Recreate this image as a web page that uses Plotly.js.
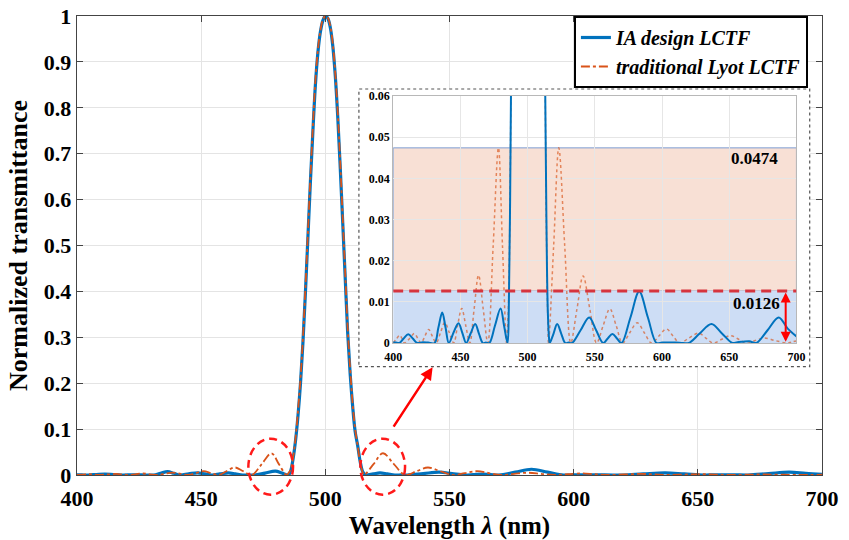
<!DOCTYPE html>
<html>
<head>
<meta charset="utf-8">
<script src="https://cdn.plot.ly/plotly-3.0.1.min.js"></script>
<style>html,body{margin:0;padding:0;background:#fff;}#chart{width:849px;height:540px;}</style>
</head>
<body>
<div id="chart"></div>
<script>
// ---------- data ----------
const seriesNames = ["IA design LCTF", "traditional Lyot LCTF"];

const iaX = [400,402,404.5,407.8,411.2,414.6,418,422,426,430.8,433.6,436.5,439,441.4,445,448.6,451.5,454.3,457.6,461,463.8,466.7,469,471.5,475.7,479.9,482.5,485.1,
  486,487,488,489,490,491,492,493,494,495,496,497,498,499,500,501,502,503,504,505,506,507,508,509,510,511,512,513,514,515,516,516.5,
  519.3,522,525,528,530.5,533,539.4,545.8,551,556.2,559.6,563.1,566.5,569.9,576.5,583,589.5,595.9,600,605,610,615.7,620,628,636.8,644.6,652.4,656,660,665,670.2,678.5,686.8,693.5,700];
const iaY = [0.0002,0.0001,0,0.0011,0.0021,0.0011,0,0.0002,0.0001,0,0.0037,0.0074,0.0037,0,0.0026,0.0048,0.0024,0,0.0023,0.0046,0.0023,0,0.0001,0,0.0042,0.0084,0.0042,0,
  0.008,0.035,0.075,0.13,0.2,0.29,0.4,0.52,0.64,0.75,0.85,0.92,0.965,0.99,1,0.995,0.975,0.935,0.87,0.78,0.67,0.55,0.43,0.31,0.22,0.15,0.095,0.065,0.03,0.008,0.001,0,
  0.0023,0.0046,0.0023,0,0.0001,0,0.0031,0.0062,0.0031,0,0.0011,0.0022,0.0011,0,0.0062,0.0125,0.0062,0,0.0001,0.0001,0.0001,0,0,0.0023,0.0046,0.0023,0,0.0002,0.0003,0.0004,0,0.0031,0.0062,0.0035,0.0016];

const lyotX = [400,402.5,404.8,406.7,408.5,412.2,415.8,418.3,420.8,423.5,426.4,429.2,432,435.2,438.4,441.8,445.1,447.9,451,454,457,460.2,463.5,467,470.4,474.4,478.3,481.3,484.3,
  485,486,487,488,489,490,491,492,493,494,495,496,497,498,499,500,501,502,503,504,505,506,507,508,509,510,511,512,513,514,515,515.6,
  519.4,523.2,527.6,532.1,536.7,541.3,546.3,551.3,556.2,561.2,565.9,570.6,576,581.5,586.8,592.2,597.7,603.3,608.2,613.2,620,627.3,632.6,638,644.5,651,657,663,669.5,676,684,692.6,696,700];
const lyotY = [0,0.001,0.0019,0.001,0,0.0011,0.0023,0.0011,0,0.0016,0.0033,0.0016,0,0.0025,0.005,0.0025,0,0.0042,0.0084,0.0042,0,0.0082,0.0165,0.0082,0,0.0237,0.0474,0.0237,0,
  0.003,0.012,0.038,0.08,0.14,0.21,0.30,0.41,0.53,0.65,0.76,0.86,0.925,0.968,0.992,1,0.996,0.978,0.94,0.875,0.79,0.68,0.56,0.44,0.32,0.23,0.155,0.1,0.065,0.028,0.006,0,
  0.0237,0.0474,0.0237,0,0.0082,0.0163,0.0082,0,0.0042,0.0083,0.0042,0,0.0025,0.0049,0.0025,0,0.0017,0.0034,0.0017,0,0.0012,0.0024,0.0012,0,0.0009,0.0018,0.0009,0,0.0006,0.0012,0.0006,0,0.0002,0.0005];

const lyotMaxSide = 0.0474;   // traditional Lyot side-lobe maximum
const iaMaxSide = 0.0126;     // IA design side-lobe maximum
const mainXTicks = [400,450,500,550,600,650,700];
const mainYTicks = [0,0.1,0.2,0.3,0.4,0.5,0.6,0.7,0.8,0.9,1];
const insetYTicks = [0,0.01,0.02,0.03,0.04,0.05,0.06];
const blankX = [], blankY = [];

// ---------- styling ----------
const SERIF = "Liberation Serif, Times New Roman, serif";
const BLUE = "#0072BD", ORANGE = "#D95319";
const bold = (size, extra) => Object.assign({family: SERIF, size: size, color: "#000", weight: "bold"}, extra || {});

const traces = [
  {x: iaX, y: iaY, name: seriesNames[0], type: "scatter", mode: "lines", xaxis: "x", yaxis: "y",
   line: {color: BLUE, width: 3.2, shape: "spline", smoothing: 1}, hoverinfo: "skip"},
  {x: lyotX, y: lyotY, name: seriesNames[1], type: "scatter", mode: "lines", xaxis: "x", yaxis: "y",
   line: {color: ORANGE, width: 1.8, dash: "dashdot", shape: "spline", smoothing: 1}, hoverinfo: "skip"},
  // frame behind the inset
  {x: blankX, y: blankY, xaxis: "x2", yaxis: "y2", type: "scatter", mode: "lines", showlegend: false, hoverinfo: "skip"},
  // inset
  {x: lyotX, y: lyotY, type: "scatter", mode: "lines", xaxis: "x3", yaxis: "y3", showlegend: false,
   line: {color: "rgba(217,83,25,0.65)", width: 1.5, dash: "dot", shape: "spline", smoothing: 1}, hoverinfo: "skip", cliponaxis: true},
  {x: iaX, y: iaY, type: "scatter", mode: "lines", xaxis: "x3", yaxis: "y3", showlegend: false,
   line: {color: BLUE, width: 2, shape: "spline", smoothing: 1}, hoverinfo: "skip", cliponaxis: true}
];

const layout = {
  width: 849, height: 540,
  margin: {l: 77, r: 27, t: 16, b: 65},
  paper_bgcolor: "#fff", plot_bgcolor: "#fff",
  showlegend: true,
  legend: {x: 0.667, y: 1, xanchor: "left", yanchor: "top", bgcolor: "#fff", bordercolor: "#000", borderwidth: 2,
           font: bold(20, {style: "italic"}), tracegroupgap: 0, itemwidth: 30},
  xaxis: {domain: [0, 1], range: [400, 700], tickvals: mainXTicks, ticks: "inside", ticklen: 6, tickcolor: "#444",
          showline: true, linecolor: "#444", linewidth: 1.3, mirror: "ticks", showgrid: true, gridcolor: "#e4e4e4",
          zeroline: false, tickfont: bold(22), anchor: "y", ticklabelstandoff: 3,
          title: {text: "Wavelength <i>λ</i> (nm)", font: bold(25), standoff: 6}},
  yaxis: {domain: [0, 1], range: [0, 1], tickvals: mainYTicks, ticktext: mainYTicks.map(String), ticks: "inside", ticklen: 6, tickcolor: "#444",
          showline: true, linecolor: "#444", linewidth: 1.3, mirror: "ticks", showgrid: true, gridcolor: "#e4e4e4",
          zeroline: false, tickfont: bold(22), anchor: "x",
          title: {text: "Normalized transmittance", font: bold(26), standoff: 8}},
  xaxis2: {domain: [0.3784, 0.9835], range: [0, 1], visible: false, anchor: "y2"},
  yaxis2: {domain: [0.236, 0.841], range: [0, 1], visible: false, anchor: "x2"},
  xaxis3: {domain: [0.4244, 0.9657], range: [400, 700], tickvals: mainXTicks, ticks: "", showline: true, linecolor: "#b8b8b8", linewidth: 1,
           mirror: true, showgrid: true, gridcolor: "#e6e6e6", zeroline: false, tickfont: bold(12), anchor: "y3", ticklabelstandoff: 3},
  yaxis3: {domain: [0.2876, 0.8257], range: [0, 0.06], tickvals: insetYTicks, ticktext: insetYTicks.map(String), ticks: "", showline: true,
           linecolor: "#b8b8b8", linewidth: 1, mirror: true, showgrid: true, gridcolor: "#e6e6e6", zeroline: false,
           tickfont: bold(12), anchor: "x3"},
  shapes: [
    {type: "rect", xref: "x3", yref: "y3", x0: 400, x1: 700, y0: iaMaxSide, y1: lyotMaxSide, layer: "below",
     fillcolor: "rgb(248,224,213)", line: {color: "rgb(125,158,212)", width: 1}},
    {type: "rect", xref: "x3", yref: "y3", x0: 400, x1: 700, y0: 0, y1: iaMaxSide, layer: "below",
     fillcolor: "rgb(205,221,245)", line: {width: 0}},
    {type: "line", xref: "x3", yref: "y3", x0: 400, x1: 700, y0: iaMaxSide, y1: iaMaxSide, layer: "above",
     line: {color: "rgb(214,52,62)", width: 3, dash: "10px,6px"}},
    {type: "rect", xref: "paper", yref: "paper", x0: 0.3784, x1: 0.9835, y0: 0.236, y1: 0.841, layer: "above",
     line: {color: "#555", width: 1.2, dash: "dot"}, fillcolor: "rgba(0,0,0,0)"},
    {type: "circle", xref: "x", yref: "paper", x0: 469, x1: 487, y0: -0.043, y1: 0.079, layer: "above",
     line: {color: "#ff1a1a", width: 2.5, dash: "8px,5px"}},
    {type: "circle", xref: "x", yref: "paper", x0: 514.1, x1: 532.1, y0: -0.043, y1: 0.079, layer: "above",
     line: {color: "#ff1a1a", width: 2.5, dash: "8px,5px"}}
  ],
  annotations: [
    {xref: "x3", yref: "y3", x: 669, y: 0.0449, text: "0.0474", showarrow: false, font: bold(17)},
    {xref: "x3", yref: "y3", x: 670, y: 0.0097, text: "0.0126", showarrow: false, font: bold(17)},
    {xref: "x3", yref: "y3", x: 692, y: 0.0003, axref: "x3", ayref: "y3", ax: 692, ay: iaMaxSide, text: "",
     showarrow: true, arrowside: "end+start", arrowhead: 2, startarrowhead: 2, arrowsize: 1, startarrowsize: 1, arrowwidth: 2, arrowcolor: "#ff0000"},
    {xref: "x", yref: "y", x: 543.2, y: 0.235, axref: "x", ayref: "y", ax: 527.1, ay: 0.102, text: "",
     showarrow: true, arrowhead: 2, arrowsize: 1, arrowwidth: 2.5, arrowcolor: "#ff0000"}
  ]
};

Plotly.newPlot("chart", traces, layout, {displayModeBar: false, staticPlot: true});
</script>
</body>
</html>
